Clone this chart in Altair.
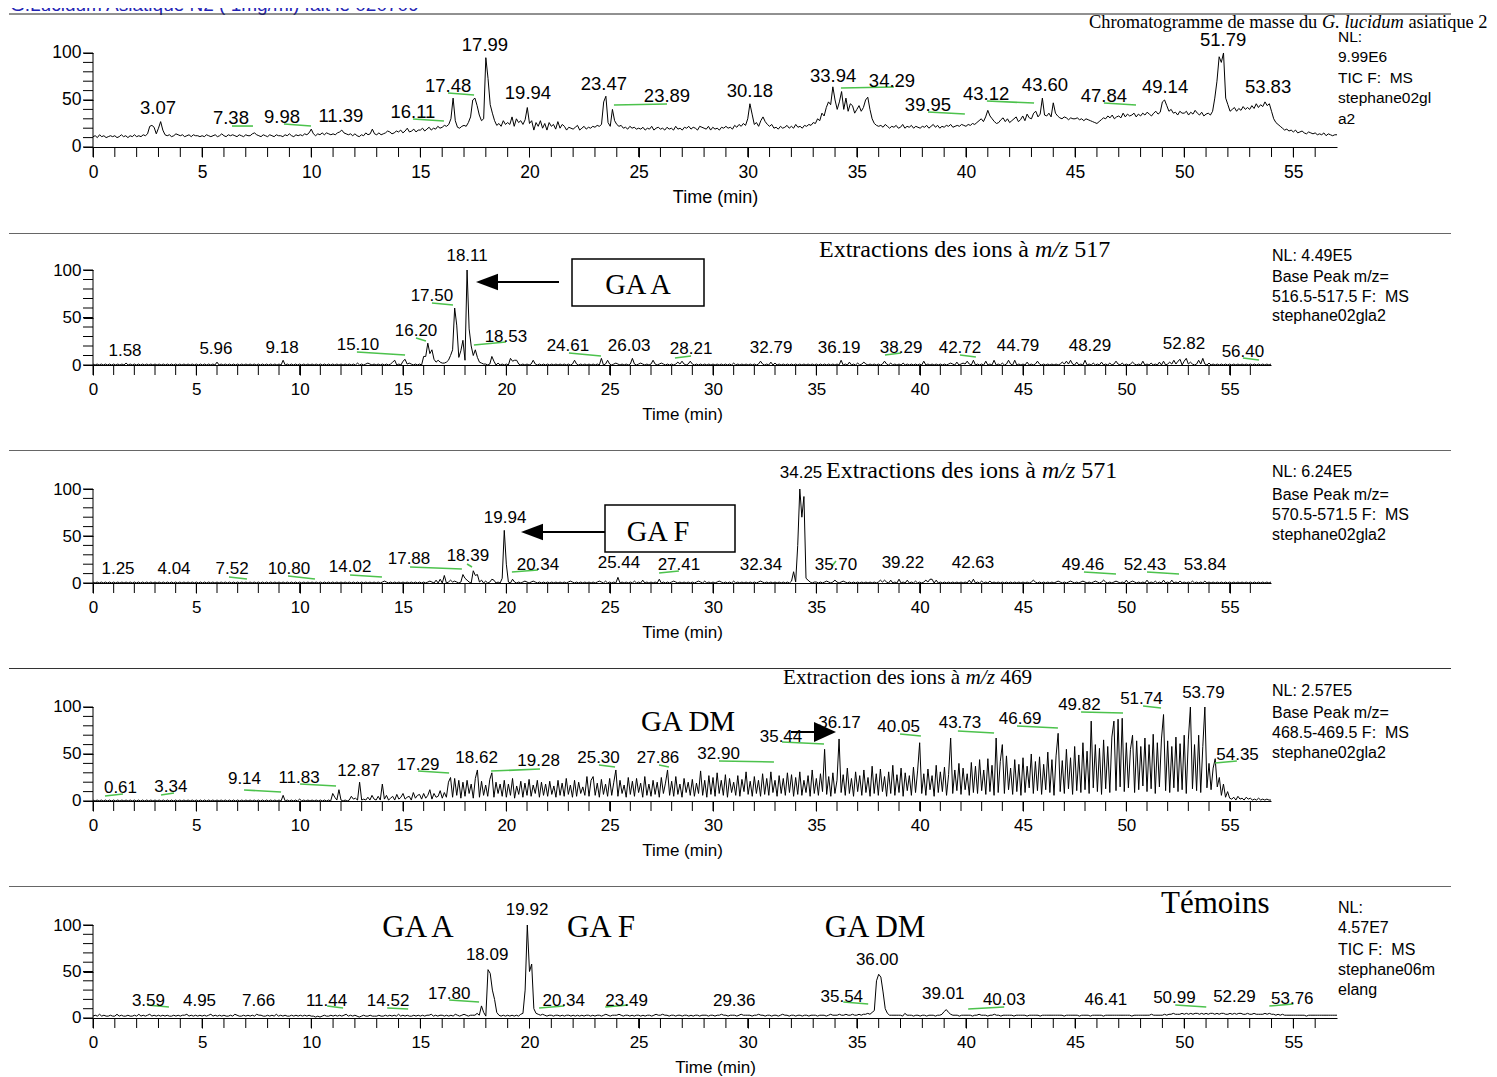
import altair as alt
import pandas as pd

# ------------------------------------------------------------------
# DATA  (relative abundance %, one trace value every 0.1 min, one row per minute)
# ------------------------------------------------------------------
STEP = 0.1

tic_sample = [
    11,12,10,13,11,12,10,11,12,11,
    12,10,11,13,11,12,10,12,11,13,
    11,12,11,13,12,14,22,23,21,14,
    20,27,18,13,12,13,11,12,14,13,
    12,13,11,12,13,11,13,12,12,11,
    12,11,13,12,11,12,13,11,12,14,
    12,11,13,12,13,12,11,13,12,11,
    13,12,12,14,15,13,12,11,13,12,
    11,13,12,11,13,12,12,11,13,12,
    14,12,11,13,12,13,12,14,13,15,
    19,14,12,14,13,15,13,15,14,13,
    14,13,15,16,18,15,14,13,14,12,
    14,12,11,13,12,15,13,14,19,14,
    13,15,13,14,15,17,16,14,15,17,
    16,18,15,17,20,16,17,19,16,18,
    18,20,17,19,21,18,20,19,22,20,
    21,23,22,24,30,52,28,21,20,22,
    23,22,26,32,50,52,44,34,28,30,
    95,73,45,36,28,23,25,22,28,24,
    26,24,32,22,30,26,28,24,29,42,
    25,28,18,26,22,28,20,25,18,26,
    22,24,19,27,20,24,22,18,21,20,
    19,21,23,18,20,22,19,21,20,22,
    21,23,22,24,48,54,26,22,40,28,
    24,22,23,20,21,19,22,20,21,19,
    20,19,21,18,20,19,22,18,20,21,
    19,20,18,21,19,20,18,22,19,20,
    18,21,20,22,19,21,20,18,22,21,
    20,19,22,18,21,19,20,18,21,20,
    22,20,21,19,23,21,24,22,25,23,
    30,46,35,24,26,22,28,32,27,24,
    22,24,20,21,19,22,20,21,23,20,
    22,20,24,21,22,20,23,22,24,23,
    26,25,30,28,36,33,42,48,45,64,
    50,40,48,59,40,52,38,46,44,36,
    40,44,38,42,50,53,40,30,25,23,
    22,23,21,24,22,20,22,21,23,20,
    21,24,20,22,21,23,20,22,21,20,
    22,21,23,20,22,24,21,23,20,22,
    21,23,22,24,21,22,23,22,24,23,
    22,24,23,25,24,26,28,30,27,32,
    39,33,30,27,25,26,29,31,27,30,
    26,28,30,32,27,29,33,28,35,31,
    30,36,38,32,35,52,34,33,36,32,
    47,36,33,31,30,32,31,29,31,30,
    30,31,29,30,28,30,29,28,27,26,
    25,27,29,31,30,33,31,34,30,32,
    33,31,36,32,35,33,34,36,32,35,
    33,36,34,37,35,33,36,38,35,37,
    48,50,44,38,40,36,37,34,38,36,
    36,38,34,37,35,39,36,34,37,33,
    35,36,34,38,52,70,96,90,100,52,
    45,38,40,42,38,41,39,43,40,42,
    40,44,41,46,42,45,43,48,44,46,
    38,30,26,24,22,20,18,19,17,18,
    16,18,15,16,17,15,14,16,15,14,
    15,13,14,13,15,12,14,13,12,13,
    13,
]

xic517 = [
    1,0,1,0,1,0,1,0,1,0,
    1,0,1,0,1,0,2,0,1,0,
    1,0,1,0,1,0,1,0,1,0,
    1,0,1,0,1,0,1,0,1,0,
    1,0,1,0,1,0,1,0,1,0,
    1,0,1,0,1,0,1,0,1,0,
    3,0,1,0,1,0,1,0,1,0,
    1,0,1,0,1,0,1,0,1,0,
    1,0,1,0,1,0,1,0,1,0,
    1,0,5,0,1,0,1,0,1,0,
    1,0,1,0,1,0,1,0,1,0,
    1,0,1,0,1,0,1,0,1,0,
    1,0,1,0,1,0,1,0,2,0,
    1,0,1,2,1,0,1,0,1,0,
    1,0,1,0,1,3,5,0,1,0,
    4,6,1,2,1,0,1,0,1,0,
    9,9,23,12,16,6,3,5,3,2,
    2,3,5,10,16,60,42,8,15,26,
    5,100,38,20,10,16,8,3,2,1,
    1,0,1,9,4,0,2,0,1,0,
    1,0,7,4,5,5,1,0,1,0,
    1,0,1,5,1,0,1,0,1,0,
    1,0,1,0,1,0,1,0,1,0,
    1,0,1,5,1,0,1,0,1,0,
    1,0,1,0,1,0,7,0,1,5,
    1,0,1,2,1,0,1,0,1,0,
    1,7,1,0,1,2,1,0,1,0,
    1,5,1,0,1,2,1,0,1,0,
    1,0,1,3,1,4,1,0,1,4,
    1,0,1,0,1,0,1,0,1,0,
    1,0,1,0,1,0,1,0,1,0,
    2,0,1,0,1,0,1,0,1,0,
    1,0,1,4,1,0,1,0,3,0,
    2,0,1,0,1,0,1,0,1,0,
    1,0,1,0,1,0,1,0,1,0,
    1,0,1,0,1,0,1,0,1,0,
    1,0,5,0,1,0,3,0,1,0,
    2,0,1,3,1,0,1,0,1,0,
    1,0,1,4,1,0,2,0,1,0,
    1,0,2,0,1,0,1,0,1,0,
    1,0,4,0,1,0,1,0,1,0,
    1,0,1,0,1,2,1,0,3,0,
    1,2,1,4,1,0,5,0,1,0,
    1,0,4,0,1,0,5,0,1,0,
    2,0,1,5,1,0,5,0,1,0,
    1,0,3,0,1,0,1,4,1,0,
    1,0,1,0,1,0,1,0,1,3,
    1,4,1,5,1,0,3,0,1,0,
    5,0,1,0,2,0,1,0,3,0,
    1,0,2,0,1,4,1,0,2,0,
    1,0,1,3,1,0,1,0,4,0,
    1,0,2,0,1,0,3,0,4,0,
    1,3,1,5,1,4,6,0,4,7,
    1,3,1,0,1,5,1,7,1,0,
    2,0,1,0,1,0,1,0,1,0,
    1,0,1,0,1,0,1,0,1,0,
    1,0,1,0,1,0,1,0,1,0,
    1,
]

xic571 = [
    1,0,1,0,1,0,1,0,1,0,
    1,0,1,0,1,0,1,0,1,0,
    1,0,1,0,1,0,1,0,1,0,
    1,0,1,0,1,0,1,0,1,0,
    1,0,1,0,1,0,1,0,1,0,
    1,0,1,0,1,0,1,0,1,0,
    1,0,1,0,1,0,1,0,1,0,
    1,0,1,0,1,0,1,0,1,0,
    1,0,1,0,1,0,1,0,1,0,
    1,0,1,0,1,0,1,0,1,0,
    1,0,1,0,1,0,1,0,1,0,
    1,0,1,0,1,0,1,0,1,0,
    1,0,1,0,1,0,1,0,1,0,
    1,0,1,0,1,0,1,0,1,0,
    1,2,1,0,1,0,1,0,1,0,
    1,0,1,0,1,0,1,0,1,0,
    1,0,1,2,1,0,3,0,4,0,
    8,0,1,3,1,2,1,0,1,9,
    5,3,1,0,13,8,9,1,3,0,
    2,0,1,4,3,0,1,0,5,56,
    20,1,0,4,1,0,1,0,1,2,
    1,0,1,2,1,0,1,0,1,0,
    1,0,1,0,1,0,1,0,1,0,
    1,2,1,0,1,0,1,0,1,0,
    1,0,1,0,1,2,1,0,2,0,
    1,0,1,0,6,0,1,0,1,0,
    1,0,2,0,1,0,3,0,1,0,
    1,0,1,0,4,0,1,0,1,0,
    1,2,1,0,1,0,1,0,1,0,
    1,0,1,2,1,0,2,0,1,0,
    1,0,1,2,1,0,1,0,1,0,
    2,0,1,0,1,0,1,0,1,0,
    1,0,1,2,1,0,1,0,1,0,
    1,0,1,0,1,0,1,0,2,12,
    1,40,100,70,92,5,3,1,0,1,
    1,0,1,0,1,2,1,0,1,3,
    1,0,1,2,1,0,1,0,1,0,
    1,0,1,0,1,0,1,0,1,0,
    1,3,1,3,1,0,3,0,1,0,
    4,0,1,0,3,0,1,0,2,0,
    1,0,1,3,1,4,4,0,3,0,
    1,0,1,0,1,0,1,0,1,0,
    1,0,1,0,3,0,4,0,1,0,
    2,0,1,0,2,0,1,0,1,0,
    1,0,1,0,1,0,1,0,1,0,
    1,0,1,0,1,3,1,0,1,0,
    1,0,1,0,1,0,1,2,1,0,
    1,0,1,2,1,0,1,0,1,2,
    1,0,1,0,1,2,1,0,1,3,
    1,0,1,0,1,2,1,0,1,0,
    3,0,1,2,1,0,1,0,1,0,
    3,0,1,0,2,0,1,0,3,0,
    1,0,3,0,1,0,2,0,1,0,
    1,0,2,0,1,0,1,0,2,0,
    1,0,1,0,1,0,1,0,1,0,
    1,0,1,0,1,0,1,0,1,0,
    1,0,1,0,1,0,1,0,1,0,
    1,
]

xic469 = [
    1,0,1,0,1,0,1,0,1,0,
    1,0,1,0,1,0,1,0,1,0,
    1,0,1,0,1,0,1,0,1,0,
    1,0,1,0,1,0,1,0,1,0,
    1,0,1,0,1,0,1,0,1,0,
    1,0,1,0,1,0,1,0,1,0,
    1,0,1,0,1,0,1,0,1,0,
    1,0,1,0,1,0,1,0,1,0,
    1,0,1,0,1,0,1,0,1,0,
    1,0,6,0,1,0,1,0,1,0,
    2,0,1,0,1,0,1,0,1,0,
    1,0,1,0,1,0,8,4,1,12,
    1,0,1,0,1,5,2,3,1,20,
    1,2,1,4,1,6,2,1,5,1,
    18,2,6,1,3,5,1,7,2,4,
    8,2,4,5,1,9,3,6,7,2,
    8,3,6,12,2,8,4,5,11,3,
    9,4,20,25,4,24,6,22,3,20,
    5,22,8,18,3,24,33,4,21,6,
    17,5,23,30,4,20,8,18,5,22,
    4,18,6,24,3,16,7,21,4,19,
    6,23,5,17,8,22,4,20,6,18,
    5,21,7,16,4,22,6,19,5,24,
    7,17,4,22,5,20,8,15,6,26,
    5,22,26,6,19,4,23,7,18,5,
    24,6,20,33,5,22,8,17,4,25,
    7,21,5,24,9,19,4,26,6,18,
    5,22,7,20,4,25,8,19,33,6,
    21,5,26,7,18,4,24,9,20,6,
    23,5,19,8,32,6,22,4,27,7,
    25,5,30,8,22,6,28,4,24,9,
    20,6,27,5,23,10,31,7,21,5,
    26,8,22,5,29,7,24,6,31,9,
    22,5,27,8,24,6,30,9,28,5,
    25,7,31,6,22,9,27,5,33,8,
    24,6,29,10,55,7,26,5,30,8,
    22,66,9,28,6,35,8,24,5,31,
    10,27,6,33,9,25,5,37,8,29,
    6,34,10,26,5,31,8,38,6,28,
    9,35,5,30,11,27,6,36,9,32,
    62,8,29,6,34,12,27,5,38,9,
    31,10,36,6,28,67,8,33,11,40,
    7,35,12,29,6,41,9,37,8,44,
    11,33,7,45,10,38,6,67,9,42,
    60,8,48,12,35,7,44,10,39,6,
    46,9,37,14,50,8,42,11,47,7,
    39,12,52,9,44,6,48,72,10,43,
    8,55,13,46,7,58,11,49,9,62,
    12,53,8,85,14,60,10,56,7,65,
    13,58,9,68,85,11,87,15,88,10,
    62,14,55,70,9,64,12,58,16,67,
    10,60,13,71,8,62,15,66,92,11,
    64,9,58,14,68,10,61,12,70,8,
    65,100,13,60,11,70,9,58,100,14,
    40,12,35,45,15,25,6,18,4,10,
    3,2,4,1,5,2,3,1,4,2,
    3,1,2,1,3,1,2,1,2,1,
    1,
]

tic_standards = [
    2,3,2,4,2,3,2,2,3,2,
    2,4,2,3,2,2,3,2,2,3,
    2,4,2,3,2,3,4,2,3,2,
    3,2,3,2,3,2,2,3,2,3,
    2,3,3,4,2,3,2,3,2,3,
    2,3,2,3,4,2,3,2,3,2,
    3,2,2,3,2,4,3,2,2,3,
    2,3,2,3,2,4,3,3,2,2,
    3,2,3,2,4,2,3,2,3,2,
    2,3,2,3,2,3,2,3,2,3,
    2,2,1,2,1,2,3,2,2,3,
    2,3,2,3,2,3,4,2,3,2,
    3,2,1,2,3,2,2,3,2,2,
    2,3,2,2,3,2,3,2,3,2,
    4,2,3,2,3,2,2,3,2,3,
    2,3,2,3,3,4,2,3,2,3,
    3,2,3,2,3,2,4,3,2,3,
    4,3,2,3,3,3,5,3,13,6,
    2,52,48,30,20,6,3,2,3,2,
    3,2,3,2,3,2,4,5,30,100,
    50,58,10,5,4,3,4,3,2,3,
    3,2,3,3,2,3,2,3,3,2,
    3,2,3,2,3,2,3,3,2,3,
    2,3,3,2,3,4,3,2,3,3,
    3,4,3,2,3,3,2,3,2,3,
    3,2,3,2,3,3,2,3,4,3,
    3,4,3,3,2,3,3,2,3,3,
    2,3,3,2,3,2,3,3,2,3,
    3,3,2,3,3,2,3,3,4,3,
    3,2,3,3,3,2,3,4,3,3,
    3,3,2,3,3,4,3,3,2,3,
    3,2,3,3,2,3,4,3,3,2,
    3,3,2,3,3,2,3,3,2,3,
    3,3,2,3,3,3,2,3,4,3,
    3,3,4,3,3,4,3,3,4,3,
    3,4,3,4,4,5,4,6,8,40,
    47,44,28,10,5,3,3,3,3,3,
    3,2,5,3,3,3,2,3,3,2,
    3,3,2,3,3,3,2,3,3,4,
    7,9,6,4,3,3,3,2,3,3,
    3,3,3,2,3,3,4,3,3,3,
    2,3,3,4,3,3,2,3,3,3,
    3,3,2,3,3,3,3,3,2,3,
    3,3,3,3,2,3,3,3,3,3,
    3,3,3,3,3,2,3,3,3,3,
    3,3,2,3,3,3,3,2,3,3,
    3,3,3,2,3,3,3,3,3,3,
    3,3,3,3,3,3,2,3,3,3,
    3,3,3,3,3,4,3,3,3,3,
    3,4,3,4,4,5,4,4,4,5,
    4,5,4,5,4,5,5,4,5,4,
    5,4,5,5,4,5,4,5,5,4,
    4,5,4,5,4,5,5,4,4,5,
    4,4,5,4,4,4,4,5,4,5,
    4,4,3,4,3,4,3,3,3,3,
    3,3,3,3,3,3,2,3,3,3,
    3,3,3,3,3,3,3,3,3,3,
    3,
]

# axis ticks: labelled ones and minor ones
X_LABELLED = [0, 5, 10, 15, 20, 25, 30, 35, 40, 45, 50, 55]
X_MINOR = list(range(0, 57))
Y_LABELLED = [0, 50, 100]
Y_MINOR = [0, 10, 20, 30, 40, 50, 60, 70, 80, 90, 100]

# peak labels: text, position (min), height (%)
p1_lab = ["3.07","7.38","9.98","11.39","16.11","17.48","17.99","19.94","23.47","23.89",
          "30.18","33.94","34.29","39.95","43.12","43.60","47.84","49.14","51.79","53.83"]
p1_lx = [2.98,6.32,8.66,11.36,14.66,16.27,17.96,19.93,23.41,26.30,
         30.10,33.91,36.61,38.26,40.92,43.62,46.32,49.12,51.78,53.84]
p1_ly = [41.5,30.9,31.9,33.0,37.2,64.9,108.5,57.4,67.0,54.3,
         59.6,75.5,70.2,44.7,56.4,66.0,54.3,63.8,113.8,63.8]

p2_lab = ["1.58","5.96","9.18","15.10","16.20","17.50","18.11","18.53","24.61","26.03",
          "28.21","32.79","36.19","38.29","42.72","44.79","48.29","52.82","56.40"]
p2_lx = [1.55,5.95,9.15,12.82,15.63,16.40,18.10,19.98,22.98,25.94,
         28.94,32.81,36.10,39.10,41.95,44.76,48.24,52.79,55.64]
p2_ly = [14.7,16.8,17.9,21.1,35.8,72.6,114.7,29.5,20.0,20.0,
         16.8,17.9,17.9,17.9,17.9,20.0,20.0,22.1,13.7]

p3_lab = ["1.25","4.04","7.52","10.80","14.02","17.88","18.39","19.94","20.34","25.44",
          "27.41","32.34","34.25","35.70","39.22","42.63","49.46","52.43","53.84"]
p3_lx = [1.21,3.92,6.73,9.48,12.44,15.29,18.14,19.94,21.53,25.45,
         28.35,32.32,34.26,35.95,39.19,42.58,47.90,50.90,53.81]
p3_ly = [14.9,14.9,14.9,14.9,17.0,25.5,28.7,69.1,19.1,21.3,
         19.1,19.1,117.0,19.1,21.3,21.3,19.1,19.1,19.1]

p4_lab = ["0.61","3.34","9.14","11.83","12.87","17.29","18.62","19.28","25.30","27.86",
          "32.90","35.44","36.17","40.05","43.73","46.69","49.82","51.74","53.79","54.35"]
p4_lx = [1.33,3.77,7.33,9.97,12.85,15.73,18.56,21.56,24.46,27.34,
         30.27,33.29,36.12,38.98,41.95,44.86,47.73,50.73,53.73,55.38]
p4_ly = [13.8,14.9,23.4,24.5,31.9,38.3,45.7,42.6,45.7,45.7,
         50.0,68.1,83.0,78.7,83.0,87.2,102.1,108.5,114.9,48.9]

p5_lab = ["3.59","4.95","7.66","11.44","14.52","17.80","18.09","19.92","20.34","23.49",
          "29.36","35.54","36.00","39.01","40.03","46.41","50.99","52.29","53.76"]
p5_lx = [2.54,4.88,7.59,10.70,13.52,16.32,18.06,19.89,21.57,24.45,
         29.38,34.31,35.93,38.96,41.75,46.41,49.55,52.30,54.95]
p5_ly = [18.3,18.3,18.3,18.3,18.3,25.8,67.7,116.1,18.3,18.3,
         18.3,22.6,62.4,25.8,19.4,19.4,21.5,22.6,20.4]

# green leader lines between a label and its peak: (t1, t2, v1, v2)
p1_ld_t1 = [6.37,8.75,14.66,16.27,23.87,34.27,38.26,40.96,46.32]
p1_ld_t2 = [7.33,9.99,16.08,17.46,26.30,36.70,39.95,43.12,47.79]
p1_ld_v1 = [22.3,24.5,29.8,57.4,44.7,62.8,37.2,48.9,46.8]
p1_ld_v2 = [22.3,22.3,27.7,55.3,45.7,63.8,35.1,46.8,44.7]

p2_ld_t1 = [12.77,15.63,16.40,19.98,23.03,28.94,39.10,41.95,55.64]
p2_ld_t2 = [15.10,16.11,17.42,18.43,24.58,28.16,38.32,42.72,56.42]
p2_ld_v1 = [13.7,28.4,65.3,24.2,12.6,9.5,12.6,10.5,7.4]
p2_ld_v2 = [10.5,25.3,63.2,21.1,9.5,7.4,10.5,8.4,5.3]

p3_ld_t1 = [6.58,9.44,12.44,15.34,18.10,20.27,27.39,35.76,47.95,51.00]
p3_ld_t2 = [7.45,10.74,13.98,17.85,18.34,21.53,28.35,35.95,49.50,52.55]
p3_ld_v1 = [6.4,7.4,8.5,17.0,20.2,11.7,10.6,18.1,11.7,11.7]
p3_ld_v2 = [4.3,4.3,6.4,14.9,17.0,13.8,12.8,23.4,9.6,9.6]

p4_ld_t1 = [0.58,3.29,7.31,10.02,15.73,19.26,24.48,27.39,30.29,33.34,39.05,41.85,44.71,47.81,50.81,54.29]
p4_ld_t2 = [1.45,3.92,9.10,11.76,17.23,21.63,25.26,27.87,32.95,35.37,40.06,43.60,46.69,49.84,51.68,55.35]
p4_ld_v1 = [5.3,6.4,11.7,18.1,31.9,31.9,38.3,38.3,42.6,62.8,71.3,74.5,79.8,94.7,101.1,40.4]
p4_ld_v2 = [7.4,8.5,9.6,16.0,29.8,34.0,36.2,36.2,41.5,60.6,69.1,72.3,77.7,93.6,98.9,42.6]

p5_ld_t1 = [2.48,10.73,13.48,16.32,20.44,23.47,34.38,40.10,49.59,53.90]
p5_ld_t2 = [3.48,11.46,14.44,17.69,21.59,24.52,35.52,41.75,51.01,55.00]
p5_ld_v1 = [14.0,12.9,10.8,19.4,10.8,11.8,17.2,9.7,14.0,12.9]
p5_ld_v2 = [11.8,10.8,9.7,17.2,12.9,14.0,15.1,11.8,11.8,15.1]

for _s in (tic_sample, xic517, xic571, xic469, tic_standards):
    assert len(_s) == 571, len(_s)

# ------------------------------------------------------------------
# STYLE
# ------------------------------------------------------------------
SANS = "Liberation Sans, Arial, sans-serif"
NARROW = "Liberation Sans Narrow, Arial Narrow, Liberation Sans, sans-serif"
SERIF = "Liberation Serif, Times New Roman, serif"
GREEN = "#4cc24c"
LEFT = 84          # space left of the plot area (px)
TICK = 10          # tick length (px)
ONE = pd.DataFrame({"k": [0]})


def trace_df(vals):
    return pd.DataFrame({"t": [round(i * STEP, 1) for i in range(len(vals))], "v": vals})


def txt(top, X, Y, s, font, size, style="normal", align="left", color="black", clip=False):
    """Free text placed at page coordinates (X, Y = alphabetic baseline)."""
    return alt.Chart(ONE).mark_text(
        text=s, font=font, fontSize=size, fontStyle=style, align=align,
        baseline="alphabetic", color=color, clip=clip,
    ).encode(x=alt.value(X - 8), y=alt.value(Y - top))


def hline(top, X1, X2, Y, color="black", width=1.0):
    return alt.Chart(ONE).mark_rule(color=color, strokeWidth=width).encode(
        x=alt.value(X1 - 8), x2=alt.value(X2 - 8), y=alt.value(Y - top))


def box(top, X1, X2, Y1, Y2):
    return alt.Chart(ONE).mark_rect(fill="white", stroke="black", strokeWidth=1.5).encode(
        x=alt.value(X1 - 8), x2=alt.value(X2 - 8), y=alt.value(Y1 - top), y2=alt.value(Y2 - top))


def head(top, X, Y, direction, w=22):
    path = "M-1,0L1,-0.75L1,0.75Z" if direction == "left" else "M1,0L-1,-0.9L-1,0.9Z"
    return alt.Chart(ONE).mark_point(shape=path, size=w * w, filled=True, color="black",
                                     opacity=1, strokeWidth=0).encode(
        x=alt.value(X - 8), y=alt.value(Y - top))


def panel(vals, lab, lx, ly, t1, t2, v1, v2, top, height, plot_w, ydom, x_off,
          tfont, tfs, lfont, lfs, ttl_fs, ttl_pad, decos):
    view_w = LEFT + plot_w
    ppu = height / (ydom[1] - ydom[0])          # pixels per % unit
    xs = alt.Scale(domain=[0, 57], range=[LEFT, view_w], nice=False, zero=False)
    ys = alt.Scale(domain=ydom, nice=False, zero=False)
    lab_pad = 24 - TICK - 0.432 * tfs
    xaxis = alt.Axis(
        values=X_LABELLED, format="d",
        tickSize=TICK, tickColor="black", tickWidth=1, domainColor="black", domainWidth=1,
        labelFont=tfont, labelFontSize=tfs, labelColor="black", labelPadding=lab_pad,
        labelFlush=False, labelOverlap=False, grid=False, offset=x_off,
        title="Time (min)", titleFont=tfont, titleFontSize=ttl_fs, titleFontWeight="normal",
        titleColor="black", titlePadding=ttl_pad,
    )
    yaxis = alt.Axis(
        values=Y_LABELLED, format="d",
        tickSize=TICK, tickColor="black", tickWidth=1, domain=False, grid=False,
        labelFont=tfont, labelFontSize=tfs, labelColor="black", labelPadding=2,
        labelFlush=False, labelOverlap=False, offset=-LEFT, title=None,
    )
    trace = alt.Chart(trace_df(vals)).mark_line(color="black", strokeWidth=1).encode(
        x=alt.X("t:Q", scale=xs, axis=xaxis),
        y=alt.Y("v:Q", scale=ys, axis=yaxis),
    )
    yline = alt.Chart(ONE).mark_rule(color="black", strokeWidth=1).encode(
        x=alt.value(LEFT), y=alt.datum(0), y2=alt.datum(100))
    xminor = alt.Chart(pd.DataFrame({"t": X_MINOR})).mark_rule(color="black", strokeWidth=1).encode(
        x="t:Q", y=alt.datum(0), y2=alt.datum(-TICK / ppu))
    yminor = alt.Chart(pd.DataFrame({"v": Y_MINOR})).mark_rule(color="black", strokeWidth=1).encode(
        x=alt.value(LEFT - TICK), x2=alt.value(LEFT), y="v:Q")
    leaders = alt.Chart(pd.DataFrame({"t": t1, "t2": t2, "v": v1, "v2": v2})).mark_rule(
        color=GREEN, strokeWidth=1.6).encode(x="t:Q", x2="t2:Q", y="v:Q", y2="v2:Q")
    labels = alt.Chart(pd.DataFrame({"t": lx, "v": ly, "s": lab})).mark_text(
        font=lfont, fontSize=lfs, baseline="middle", align="center", color="black").encode(
        x="t:Q", y="v:Q", text="s:N")
    return alt.layer(trace, yline, xminor, yminor, leaders, labels, *decos).properties(
        width=view_w, height=height)


# ------------------------------------------------------------------
# PANELS
# ------------------------------------------------------------------
T1, T2, T3, T4, T5 = 8, 233, 450, 667, 885

d1 = [
    txt(T1, 9, 11, "G.Lucidum Asiatique N2 ( 1mg/ml) fait le 020709", SANS, 19, color="#2323b4", clip=True),
    hline(T1, 8, 1450, 14, color="#222222"),
    txt(T1, 1088, 28, "Chromatogramme de masse du", SERIF, 18.4),
    txt(T1, 1321, 28, "G. lucidum", SERIF, 18.4, style="italic"),
    txt(T1, 1407.4, 28, "asiatique 2", SERIF, 18.4),
    txt(T1, 1337, 42, "NL:", SANS, 15.5),
    txt(T1, 1337, 62, "9.99E6", SANS, 15.5),
    txt(T1, 1337, 83, "TIC F:\u00a0 MS", SANS, 15.5),
    txt(T1, 1337, 103, "stephane02gl", SANS, 15.5),
    txt(T1, 1337, 124, "a2", SANS, 15.5),
]
p1 = panel(tic_sample, p1_lab, p1_lx, p1_ly, p1_ld_t1, p1_ld_t2, p1_ld_v1, p1_ld_v2,
           T1, 225, 1244, [-91.49, 147.87], -86, SANS, 17.5, SANS, 18.5, 18, 8, d1)

d2 = [
    hline(T2, 8, 1450, 233.5, color="#666666"),
    txt(T2, 818, 257, "Extractions des ions à", SERIF, 24),
    txt(T2, 1034, 257, "m/z", SERIF, 24, style="italic"),
    txt(T2, 1073.3, 257, "517", SERIF, 24),
    box(T2, 571, 703, 259, 306),
    txt(T2, 637, 294, "GA A", SERIF, 28.5, align="center"),
    hline(T2, 496, 558, 282, width=2),
    head(T2, 486, 282, "left"),
    txt(T2, 1271, 261, "NL: 4.49E5", NARROW, 16),
    txt(T2, 1271, 282, "Base Peak m/z=", NARROW, 16),
    txt(T2, 1271, 302, "516.5-517.5 F:\u00a0 MS", NARROW, 16),
    txt(T2, 1271, 321, "stephane02gla2", NARROW, 16),
]
p2 = panel(xic517, p2_lab, p2_lx, p2_ly, p2_ld_t1, p2_ld_t2, p2_ld_v1, p2_ld_v2,
           T2, 217, 1178, [-89.47, 138.95], -85, NARROW, 17, NARROW, 17, 17, 9, d2)

d3 = [
    hline(T3, 8, 1450, 450.5, color="#666666"),
    txt(T3, 825, 478, "Extractions des ions à", SERIF, 24),
    txt(T3, 1041, 478, "m/z", SERIF, 24, style="italic"),
    txt(T3, 1080.3, 478, "571", SERIF, 24),
    box(T3, 604, 734, 505, 552),
    txt(T3, 657, 541, "GA F", SERIF, 28.5, align="center"),
    hline(T3, 541, 604, 532, width=2),
    head(T3, 531, 532, "left"),
    txt(T3, 1271, 477, "NL: 6.24E5", NARROW, 16),
    txt(T3, 1271, 500, "Base Peak m/z=", NARROW, 16),
    txt(T3, 1271, 520, "570.5-571.5 F:\u00a0 MS", NARROW, 16),
    txt(T3, 1271, 540, "stephane02gla2", NARROW, 16),
]
p3 = panel(xic571, p3_lab, p3_lx, p3_ly, p3_ld_t1, p3_ld_t2, p3_ld_v1, p3_ld_v2,
           T3, 217, 1178, [-89.36, 141.49], -84, NARROW, 17, NARROW, 17, 17, 9, d3)

d4 = [
    hline(T4, 8, 1450, 667.5, color="#333333"),
    txt(T4, 782, 683, "Extraction des ions à", SERIF, 21.2),
    txt(T4, 964.5, 683, "m/z", SERIF, 21.2, style="italic"),
    txt(T4, 999.3, 683, "469", SERIF, 21.2),
    txt(T4, 687, 730, "GA DM", SERIF, 29, align="center"),
    hline(T4, 790, 815, 731, width=2),
    head(T4, 824, 731, "right", w=22),
    txt(T4, 1271, 695, "NL: 2.57E5", NARROW, 16),
    txt(T4, 1271, 717, "Base Peak m/z=", NARROW, 16),
    txt(T4, 1271, 737, "468.5-469.5 F:\u00a0 MS", NARROW, 16),
    txt(T4, 1271, 757, "stephane02gla2", NARROW, 16),
]
p4 = panel(xic469, p4_lab, p4_lx, p4_ly, p4_ld_t1, p4_ld_t2, p4_ld_v1, p4_ld_v2,
           T4, 218, 1178, [-90.43, 141.49], -85, NARROW, 17, NARROW, 17, 17, 9, d4)

d5 = [
    hline(T5, 8, 1450, 885.5, color="#666666"),
    txt(T5, 417, 936, "GA A", SERIF, 31, align="center"),
    txt(T5, 600, 936, "GA F", SERIF, 31, align="center"),
    txt(T5, 874, 936, "GA DM", SERIF, 31, align="center"),
    txt(T5, 1160, 912, "Témoins", SERIF, 31),
    txt(T5, 1337, 912, "NL:", NARROW, 16),
    txt(T5, 1337, 932, "4.57E7", NARROW, 16),
    txt(T5, 1337, 954, "TIC F:\u00a0 MS", NARROW, 16),
    txt(T5, 1337, 974, "stephane06m", NARROW, 16),
    txt(T5, 1337, 994, "elang", NARROW, 16),
]
p5 = panel(tic_standards, p5_lab, p5_lx, p5_ly, p5_ld_t1, p5_ld_t2, p5_ld_v1, p5_ld_v2,
           T5, 190, 1244, [-62.37, 141.94], -58, NARROW, 17, NARROW, 17, 17, 9, d5)

chart = alt.vconcat(p1, p2, p3, p4, p5, spacing=0).properties(
    padding=0, background="white"
).configure_view(stroke="transparent", strokeWidth=0)

chart.save("out.html", embed_options={"renderer": "svg", "actions": False})
